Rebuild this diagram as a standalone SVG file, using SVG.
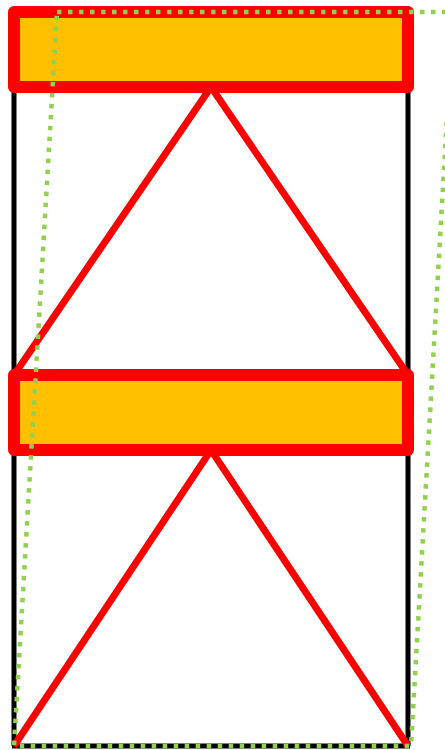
<svg xmlns="http://www.w3.org/2000/svg" width="445" height="750" viewBox="0 0 445 750">
<style>
.post{stroke:#000;stroke-width:5;fill:none}
.brace{stroke:#FF0000;stroke-width:7;fill:none;stroke-linecap:butt}
.beam{fill:#FFC000;stroke:#FF0000;stroke-width:12;stroke-linejoin:round}
.outline{fill:none;stroke:#92D050;stroke-width:4.5;stroke-dasharray:4.5 6.5}
</style>
<rect width="445" height="750" fill="#fff"/>
<g id="connectors">
<line class="post" x1="14" y1="87" x2="14" y2="746"/>
<line class="post" x1="408" y1="87" x2="408" y2="746"/>
<line class="post" x1="12" y1="746" x2="410" y2="746"/>
<polyline class="brace" points="14,375 211,87 408,375"/>
<polyline class="brace" points="14,746 211,450 408,746"/>
</g>
<g id="beam-top"><rect class="beam" x="14" y="12" width="394" height="75"/></g>
<g id="beam-middle"><rect class="beam" x="14" y="375" width="394" height="75"/></g>
<g id="outline"><polygon class="outline" points="57,12 453,12 411,746 14,746"/></g>
</svg>
